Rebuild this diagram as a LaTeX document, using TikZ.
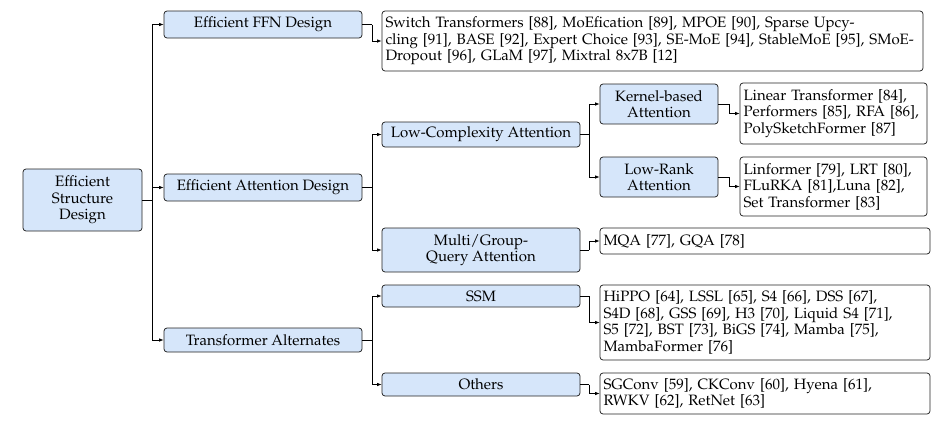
\documentclass[tikz,border=0pt]{standalone}
\usepackage[T1]{fontenc}
\usepackage{mathpazo}
\usetikzlibrary{arrows.meta}
\definecolor{boxblue}{RGB}{214,230,250}
\definecolor{edgegray}{RGB}{34,34,34}
\tikzset{
  catbox/.style={draw=edgegray, line width=0.75pt, rounded corners=3pt, fill=boxblue, align=center, inner sep=0pt},
  leafbox/.style={draw=edgegray, line width=0.75pt, rounded corners=3pt, fill=white, align=left, inner xsep=3.5pt, inner ysep=0pt},
  link/.style={draw=black, line width=0.75pt},
  arr/.style={link, -{Latex[length=4.5pt,width=3.5pt]}},
}
\begin{document}
\begin{tikzpicture}[x=1pt,y=-1pt,font=\fontsize{15}{16.5}\selectfont]
\useasboundingbox (0,0) rectangle (945,423);
% level 0
\node[catbox, minimum width=119pt, minimum height=62pt] (root) at (82.5,200) {Efficient\\Structure\\Design};
% level 1
\node[catbox, minimum width=198pt, minimum height=27pt] (ffn) at (263,24.5) {Efficient FFN Design};
\node[catbox, minimum width=198pt, minimum height=27pt] (att) at (263,187.5) {Efficient Attention Design};
\node[catbox, minimum width=198pt, minimum height=24pt] (alt) at (263,340) {Transformer Alternates};
% level 2
\node[catbox, minimum width=198pt, minimum height=25pt] (lca) at (481,134.5) {Low-Complexity Attention};
\node[catbox, minimum width=198pt, minimum height=44pt] (mqa) at (481,250) {Multi/Group-\\Query Attention};
\node[catbox, minimum width=198pt, minimum height=22pt] (ssm) at (481,296) {SSM};
\node[catbox, minimum width=198pt, minimum height=23pt] (oth) at (481,384.5) {Others};
% level 3
\node[catbox, minimum width=118pt, minimum height=40pt] (kern) at (659,104) {Kernel-based\\Attention};
\node[catbox, minimum width=118pt, minimum height=40pt] (lrank) at (659,177) {Low-Rank\\Attention};
% leaves
\node[leafbox, text width=534pt, minimum height=60pt] (ffnleaf) at (652.5,41) {\mbox{Switch Transformers [88], MoEfication [89], MPOE [90], Sparse Upcy-}\\\mbox{cling [91], BASE [92], Expert Choice [93], SE-MoE [94], StableMoE [95], SMoE-}\\\mbox{Dropout [96], GLaM [97], Mixtral 8x7B [12]}};
\node[leafbox, text width=180pt, minimum height=61pt] (kernleaf) at (833.5,113.5) {\mbox{Linear Transformer [84],}\\\mbox{Performers [85], RFA [86],}\\\mbox{PolySketchFormer [87]}};
\node[leafbox, text width=180pt, minimum height=59pt] (lrleaf) at (833.5,186.5) {\mbox{Linformer [79], LRT [80],}\\\mbox{FLuRKA [81],Luna [82],}\\\mbox{Set Transformer [83]}};
\node[leafbox, text width=323pt, minimum height=26pt] (mqaleaf) at (765,241) {MQA [77], GQA [78]};
\node[leafbox, text width=323pt, minimum height=75pt] (ssmleaf) at (765,322.5) {\mbox{HiPPO [64], LSSL [65], S4 [66], DSS [67],}\\\mbox{S4D [68], GSS [69], H3 [70], Liquid S4 [71],}\\\mbox{S5 [72], BST [73], BiGS [74], Mamba [75],}\\\mbox{MambaFormer [76]}};
\node[leafbox, text width=323pt, minimum height=41pt] (othleaf) at (765,393.5) {\mbox{SGConv [59], CKConv [60], Hyena [61],}\\\mbox{RWKV [62], RetNet [63]}};
% junction coordinates
\coordinate (j0) at (152,200);
\coordinate (jffn) at (372,24.5);
\coordinate (jatt) at (372,187.5);
\coordinate (jalt) at (372,340);
\coordinate (jlca) at (589,134.5);
\coordinate (jkern) at (729,104);
\coordinate (jlr) at (729,177);
\coordinate (jmqa) at (589,250);
\coordinate (jssm) at (589,296);
\coordinate (joth) at (589,384.5);
% root edges
\draw[link] (root.east |- j0) -- (j0);
\draw[arr] (j0) |- (ffn.west);
\draw[arr] (j0) |- (att.west);
\draw[arr] (j0) |- (alt.west);
% ffn
\draw[link] (ffn.east) -- (jffn);
\draw[arr] (jffn) |- (ffnleaf.west);
% attention
\draw[link] (att.east) -- (jatt);
\draw[arr] (jatt) |- (lca.west);
\draw[arr] (jatt) |- (mqa.west);
\draw[link] (lca.east) -- (jlca);
\draw[arr] (jlca) |- (kern.west);
\draw[arr] (jlca) |- (lrank.west);
\draw[link] (kern.east) -- (jkern);
\draw[arr] (jkern) |- (kernleaf.west);
\draw[link] (lrank.east) -- (jlr);
\draw[arr] (jlr) |- (lrleaf.west);
\draw[link] (mqa.east) -- (jmqa);
\draw[arr] (jmqa) |- (mqaleaf.west);
% alternates
\draw[link] (alt.east) -- (jalt);
\draw[arr] (jalt) |- (ssm.west);
\draw[arr] (jalt) |- (oth.west);
\draw[link] (ssm.east) -- (jssm);
\draw[arr] (jssm) |- (ssmleaf.west);
\draw[link] (oth.east) -- (joth);
\draw[arr] (joth) |- (othleaf.west);
\end{tikzpicture}
\end{document}
